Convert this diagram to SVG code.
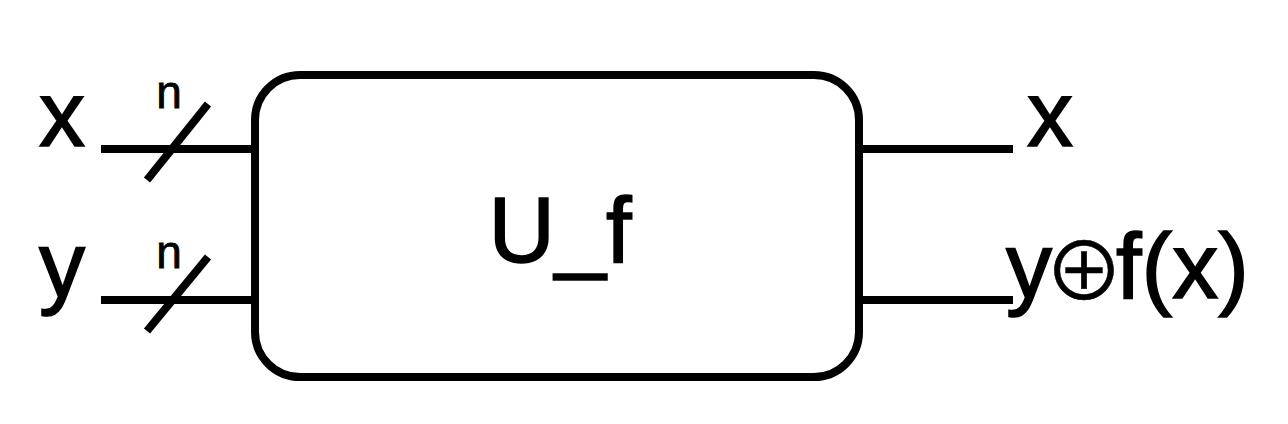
<svg xmlns="http://www.w3.org/2000/svg" width="1288" height="424" viewBox="0 0 1288 424">
<style>
.w{stroke:#000;stroke-width:8;fill:none}
.t{font-family:"Liberation Sans",Arial,sans-serif;fill:#000;stroke:#000;stroke-width:1.6}
.big{font-size:92px}
.sm{font-size:46px;stroke-width:0.8}
</style>
<rect width="1288" height="424" fill="#fff"/>
<g id="connectors">
<line class="w" x1="101" y1="149" x2="253" y2="149"/>
<line class="w" x1="101" y1="300" x2="253" y2="300"/>
<line class="w" x1="861" y1="149" x2="1013" y2="149"/>
<line class="w" x1="861" y1="300" x2="1013" y2="300"/>
<line class="w" x1="147" y1="180" x2="208" y2="104"/>
<line class="w" x1="147" y1="331" x2="208" y2="257"/>
</g>
<g id="node-uf">
<rect class="w" x="255" y="75" width="604" height="302" rx="45" ry="45"/>
<text class="t big" x="560" y="262" text-anchor="middle">U_f</text>
</g>
<g id="labels">
<text class="t big" x="39" y="146">x</text>
<text class="t big" x="39" y="297">y</text>
<text class="t sm" x="169" y="108" text-anchor="middle">n</text>
<text class="t sm" x="169" y="268" text-anchor="middle">n</text>
<text class="t big" x="1027" y="146">x</text>
<text class="t big" y="298"><tspan x="1006">y</tspan><tspan x="1044" y="300" font-family="'Noto Sans CJK SC',sans-serif" font-size="80px" stroke-width="0.5">⊕</tspan><tspan x="1116" y="298">f(x)</tspan></text>
</g>
</svg>
